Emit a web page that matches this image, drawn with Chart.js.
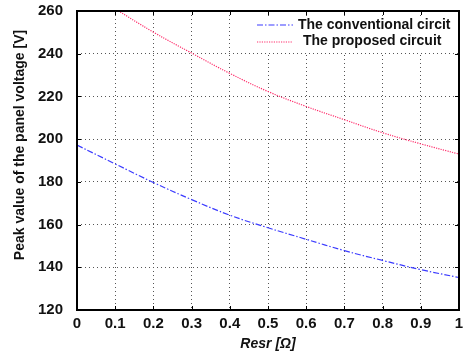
<!DOCTYPE html>
<html lang="en">

<head>
  <meta charset="UTF-8">
  <title>Peak value of the panel voltage</title>
  <script src="https://cdn.jsdelivr.net/npm/chart.js"></script>
  <style>
    html, body { margin: 0; padding: 0; background: #fff; }
    .chart-wrapper { width: 471px; height: 357px; position: relative; }
  </style>
</head>

<body>
  <div class="chart-wrapper"><canvas id="voltageChart"></canvas></div>

  <script>
    // Datos
    const resrValues = [0, 0.1, 0.2, 0.3, 0.4, 0.5, 0.6, 0.7, 0.8, 0.9, 1.0];
    const conventionalVoltage = [197.2, 188.4, 179.7, 171.7, 164.4, 158.5, 153.1, 147.8, 143.2, 138.9, 135.2];
    const proposedVoltage = [272.0, 261.0, 250.1, 240.3, 230.8, 222.3, 215.3, 209.1, 203.0, 197.8, 193.0];
    const xTicks = [0, 0.1, 0.2, 0.3, 0.4, 0.5, 0.6, 0.7, 0.8, 0.9, 1];
    const yTicks = [120, 140, 160, 180, 200, 220, 240, 260];
    const seriesLabels = ['The conventional circit', 'The proposed circuit'];

    const FONT = '"Liberation Sans", Arial, sans-serif';

    // Marco, marcas internas, título del eje Y y leyenda
    const framePlugin = {
      id: 'framePlugin',
      afterDraw(chart) {
        const { ctx, chartArea: a, scales: { x, y } } = chart;
        ctx.save();

        // marcas internas
        ctx.strokeStyle = '#000';
        ctx.lineWidth = 1;
        ctx.beginPath();
        xTicks.forEach(v => {
          const px = Math.round(x.getPixelForValue(v)) + 0.5;
          ctx.moveTo(px, a.bottom); ctx.lineTo(px, a.bottom - 4);
          ctx.moveTo(px, a.top); ctx.lineTo(px, a.top + 4);
        });
        yTicks.forEach(v => {
          const py = Math.round(y.getPixelForValue(v)) + 0.5;
          ctx.moveTo(a.left, py); ctx.lineTo(a.left + 4, py);
          ctx.moveTo(a.right, py); ctx.lineTo(a.right - 4, py);
        });
        ctx.stroke();

        // leyenda
        const lx = 250, ly = a.top + 5;
        ctx.fillStyle = '#fff';
        ctx.fillRect(lx, ly, a.right - lx - 5, 37);
        const lineY = [25, 42], textY = [25, 41], textX = [298, 303];
        chart.data.datasets.forEach((ds, i) => {
          ctx.strokeStyle = ds.borderColor;
          ctx.lineWidth = 1.2;
          ctx.setLineDash(ds.borderDash);
          ctx.beginPath();
          ctx.moveTo(257, lineY[i]); ctx.lineTo(293, lineY[i]);
          ctx.stroke();
          ctx.setLineDash([]);
          ctx.fillStyle = '#111';
          ctx.font = 'bold 14px ' + FONT;
          ctx.textBaseline = 'middle';
          ctx.textAlign = 'left';
          ctx.fillText(ds.label, textX[i], textY[i]);
        });

        // marco
        ctx.strokeStyle = '#000';
        ctx.lineWidth = 2;
        ctx.strokeRect(a.left, a.top, a.right - a.left, a.bottom - a.top);

        // título del eje Y
        ctx.translate(20, 145);
        ctx.rotate(-Math.PI / 2);
        ctx.fillStyle = '#111';
        ctx.font = 'bold 14px ' + FONT;
        ctx.textAlign = 'center';
        ctx.textBaseline = 'middle';
        ctx.fillText('Peak value of the panel voltage [V]', 0, 0);
        ctx.restore();
      }
    };

    const gridOpts = { color: '#555', lineWidth: 1, drawTicks: false };
    const borderOpts = { display: false, dash: [1, 3] };

    new Chart(document.getElementById('voltageChart'), {
      type: 'line',
      data: {
        datasets: [{
          label: seriesLabels[0],
          data: resrValues.map((r, i) => ({ x: r, y: conventionalVoltage[i] })),
          borderColor: '#3b3bff',
          borderWidth: 1.2,
          borderDash: [6, 2, 1.5, 2],
          pointRadius: 0,
          tension: 0.4,
          fill: false
        }, {
          label: seriesLabels[1],
          data: resrValues.map((r, i) => ({ x: r, y: proposedVoltage[i] })),
          borderColor: '#ff2d6b',
          borderWidth: 1.2,
          borderDash: [1.2, 1.2],
          pointRadius: 0,
          tension: 0.4,
          fill: false
        }]
      },
      options: {
        responsive: true,
        maintainAspectRatio: false,
        animation: false,
        layout: { padding: { top: 11, right: 12, left: 0, bottom: 0 } },
        plugins: { legend: { display: false }, tooltip: { enabled: false } },
        scales: {
          x: {
            type: 'linear', min: 0, max: 1,
            afterFit: s => { s.height = 47; },
            afterBuildTicks: s => { s.ticks = xTicks.map(v => ({ value: v })); },
            border: borderOpts,
            grid: gridOpts,
            ticks: {
              padding: 5, color: '#111', maxRotation: 0,
              font: { family: FONT, size: 15, weight: 'bold' },
              callback: v => String(Math.round(v * 10) / 10)
            },
            title: {
              display: true, text: 'Resr [Ω]', color: '#111', padding: { top: 3 },
              font: { family: FONT, size: 14, weight: 'bold', style: 'italic' }
            }
          },
          y: {
            min: 120, max: 260,
            afterFit: s => { s.width = 77; s.paddingTop = 0; s.paddingBottom = 0; },
            afterBuildTicks: s => { s.ticks = yTicks.map(v => ({ value: v })); },
            border: borderOpts,
            grid: gridOpts,
            ticks: {
              padding: 14, color: '#111',
              font: { family: FONT, size: 15, weight: 'bold' }
            }
          }
        }
      },
      plugins: [framePlugin]
    });
  </script>
</body>

</html>
